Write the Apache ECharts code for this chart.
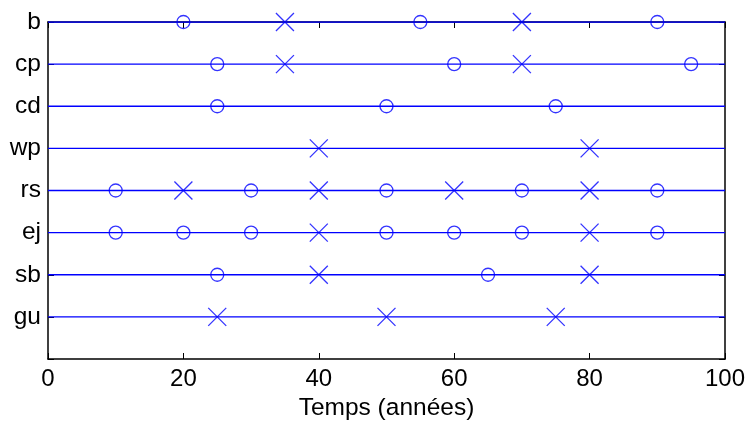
<!DOCTYPE html>
<html>
<head>
<meta charset="utf-8">
<script src="https://cdn.jsdelivr.net/npm/echarts@6/dist/echarts.min.js"></script>
<style>html,body{margin:0;padding:0;background:#fff}#c{width:748px;height:426px}</style>
</head>
<body>
<div id="c"></div>
<script>
const categories = ['b','cp','cd','wp','rs','ej','sb','gu'];
const circleTimes = [[20,55,90],[25,60,95],[25,50,75],[],[10,30,50,70,90],[10,20,30,50,60,70,90],[25,65],[]];
const crossTimes = [[35,70],[35,70],[],[40,80],[20,40,60,80],[40,80],[40,80],[25,50,75]];
const lineSpan = [0,100];
const xTicks = [0,20,40,60,80,100];

const n = categories.length;
const rowVal = i => n - i;
const blue = '#0000ff';
const font = "'Liberation Sans', Arial, Helvetica, sans-serif";

const series = [];
categories.forEach((c,i)=>{
  series.push({type:'line', data: lineSpan.map(x=>[x,rowVal(i)]), symbol:'none',
    lineStyle:{color:blue,width:1.3}, silent:true, z:2, animation:false});
});
const circData = [], crossData = [];
categories.forEach((c,i)=>{
  circleTimes[i].forEach(x=>circData.push([x,rowVal(i)]));
  crossTimes[i].forEach(x=>crossData.push([x,rowVal(i)]));
});
series.push({type:'scatter', data:circData, symbol:'circle', symbolSize:13,
  itemStyle:{color:'none', borderColor:blue, borderWidth:1.3}, z:3, animation:false});
series.push({type:'scatter', data:crossData, symbol:'path://M0,0L10,10M10,0L0,10', symbolSize:18,
  itemStyle:{color:'none', borderColor:blue, borderWidth:1.3}, z:3, animation:false});

const chart = echarts.init(document.getElementById('c'), null, {renderer:'canvas'});
chart.setOption({
  backgroundColor:'#fff',
  animation:false,
  grid:{left:48, right:23, top:22, bottom:64, containLabel:false},
  xAxis:[{
    type:'value', min:xTicks[0], max:xTicks[xTicks.length-1], interval:20, position:'bottom',
    axisLine:{show:true, onZero:false, lineStyle:{color:'#000', width:1.5}},
    axisTick:{show:true, inside:true, length:6, lineStyle:{color:'#000'}},
    axisLabel:{show:true, color:'#000', fontSize:24, fontFamily:font, margin:8},
    splitLine:{show:false},
    name:'Temps (années)', nameLocation:'middle', nameGap:37,
    nameTextStyle:{color:'#000', fontSize:24.5, fontFamily:font}
  },{
    type:'value', min:0, max:100, interval:20, position:'top',
    axisLine:{show:true, onZero:false, lineStyle:{color:'#000', width:1.5}},
    axisTick:{show:true, inside:true, length:6, lineStyle:{color:'#000'}},
    axisLabel:{show:false}, splitLine:{show:false}
  }],
  yAxis:[{
    type:'value', min:0, max:n, interval:1, position:'left',
    axisLine:{show:true, onZero:false, lineStyle:{color:'#000', width:1.5}},
    axisTick:{show:true, inside:true, length:6, lineStyle:{color:'#000'}},
    axisLabel:{show:true, color:'#000', fontSize:24.5, fontFamily:font, margin:7,
      formatter:v=>{const i=n-v; return (i>=0&&i<n)?categories[i]:'';}},
    splitLine:{show:false}
  },{
    type:'value', min:0, max:n, interval:1, position:'right',
    axisLine:{show:true, onZero:false, lineStyle:{color:'#000', width:1.5}},
    axisTick:{show:true, inside:true, length:6, lineStyle:{color:'#000'}},
    axisLabel:{show:false}, splitLine:{show:false}
  }],
  series: series
});
</script>
</body>
</html>
